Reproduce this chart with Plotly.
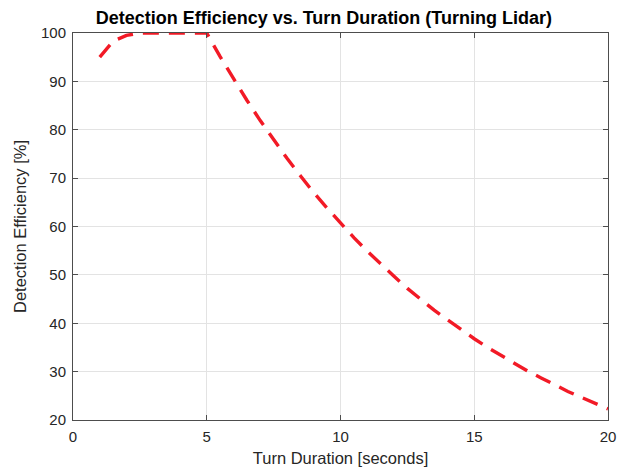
import plotly.graph_objects as go

turn_duration = [1, 1.5, 2, 2.5, 3, 3.5, 4, 4.5, 5, 5.5, 6, 6.5, 7, 7.5, 8, 8.5, 9, 9.5,
                 10, 10.5, 11, 11.5, 12, 12.5, 13, 13.5, 14, 14.5, 15, 15.5, 16, 16.5,
                 17, 17.5, 18, 18.5, 19, 19.5, 20]
efficiency = [95.0, 98.3, 99.5, 100, 100, 100, 100, 100, 100, 95.1, 90.5, 86.1, 81.9, 77.9,
              74.1, 70.5, 67.0, 63.8, 60.7, 57.7, 54.9, 52.2, 49.7, 47.2, 44.9, 42.7, 40.7,
              38.7, 36.8, 35.0, 33.3, 31.7, 30.1, 28.7, 27.3, 25.9, 24.7, 23.5, 22.3]
x_ticks = [0, 5, 10, 15, 20]
y_ticks = [20, 30, 40, 50, 60, 70, 80, 90, 100]

fig = go.Figure()
fig.add_trace(go.Scatter(
    x=turn_duration, y=efficiency, mode="lines",
    line=dict(color="#F21A26", width=3.4, dash="16px,10px"),
    showlegend=False,
))

font = "Liberation Sans, Arial, sans-serif"
axis_common = dict(
    showgrid=True, gridcolor="#e3e3e3", gridwidth=1,
    showline=True, linecolor="#4d4d4d", linewidth=1, mirror="ticks",
    ticks="inside", ticklen=5, tickcolor="#4d4d4d",
    tickfont=dict(family=font, size=15, color="#262626"),
    zeroline=False, automargin=False,
)
fig.update_layout(
    width=618, height=468,
    margin=dict(l=73, r=10, t=33, b=48),
    paper_bgcolor="white", plot_bgcolor="white",
    title=dict(text="<b>Detection Efficiency vs. Turn Duration (Turning Lidar)</b>",
               x=0.524, xanchor="center", y=0.962, yanchor="middle",
               font=dict(family=font, size=18, color="black")),
    xaxis=dict(range=[0, 20], tickvals=x_ticks, ticklabelstandoff=3,
               title=dict(text="Turn Duration [seconds]", standoff=8,
                          font=dict(family=font, size=16.5, color="#262626")),
               **axis_common),
    yaxis=dict(range=[20, 100], tickvals=y_ticks, ticklabelstandoff=3,
               title=dict(text="Detection Efficiency [%]", standoff=10,
                          font=dict(family=font, size=16.5, color="#262626")),
               **axis_common),
)
fig.write_html("out.html")
